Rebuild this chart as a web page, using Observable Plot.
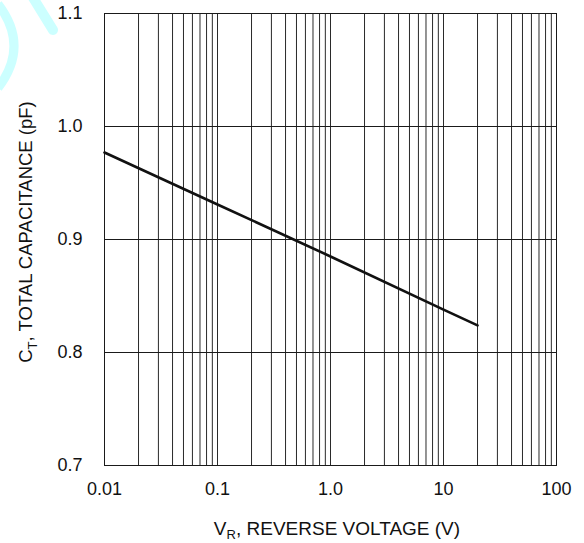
<!DOCTYPE html>
<html>
<head>
<meta charset="utf-8">
<script src="https://cdn.jsdelivr.net/npm/d3@7"></script>
<script src="https://cdn.jsdelivr.net/npm/@observablehq/plot@0.6"></script>
<style>
  html, body { margin: 0; padding: 0; background: #fff; overflow: hidden; }
  #wrap { position: relative; width: 584px; height: 543px; }
  #wrap svg.plot { position: absolute; left: 0; top: 0; }
  #mark { position: absolute; left: 0; top: 0; pointer-events: none; }
</style>
</head>
<body>
<div id="wrap">
  <svg id="mark" width="90" height="100">
    <path d="M -2 4 Q 30 46 -2 88" fill="none" stroke="#ccffff" stroke-width="9"/>
    <path d="M 32 -4 L 53 30" fill="none" stroke="#ccffff" stroke-width="10" stroke-linecap="round"/>
  </svg>
</div>
<script>
// ---- data ----
const vr = [0.01, 0.1, 1, 10, 20];               // reverse voltage (V)
const ct = [0.977, 0.931, 0.885, 0.838, 0.824];  // total capacitance (pF)

const xTicks = [0.01, 0.1, 1, 10, 100];
const xTickLabels = ["0.01", "0.1", "1.0", "10", "100"];
const yTicks = [0.7, 0.8, 0.9, 1.0, 1.1];
const yTickLabels = ["0.7", "0.8", "0.9", "1.0", "1.1"];
const decades = [0.01, 0.1, 1, 10];
const minorMult = [1, 2, 3, 4, 5, 6, 7, 8, 9];

const xGrid = decades.flatMap(d => minorMult.map(m => +(d * m).toPrecision(3))).concat([100]);
const curve = vr.map((v, i) => ({ v, c: ct[i] }));
const xTickData = xTicks.map((t, i) => ({ t, label: xTickLabels[i] }));
const yTickData = yTicks.map((t, i) => ({ t, label: yTickLabels[i] }));

const font = "'Liberation Sans', Arial, Helvetica, sans-serif";

const svg = Plot.plot({
  width: 584,
  height: 543,
  marginLeft: 104,
  marginRight: 28,
  marginTop: 13,
  marginBottom: 78,
  style: { fontFamily: font, fontSize: "18px", color: "#111", background: "#fff" },
  x: { type: "log", domain: [0.01, 100], axis: null },
  y: { domain: [0.7, 1.1], axis: null },
  marks: [
    Plot.ruleX(xGrid, { stroke: "#2a2a2a", strokeWidth: 1 }),
    Plot.ruleY(yTicks, { stroke: "#1a1a1a", strokeWidth: 1 }),
    Plot.frame({ stroke: "#1a1a1a", strokeWidth: 1 }),
    Plot.line(curve, { x: "v", y: "c", stroke: "#111", strokeWidth: 2.6 }),
    Plot.text(xTickData, {
      x: "t", text: "label", frameAnchor: "bottom", lineAnchor: "top",
      dy: 17, fontSize: 18, fill: "#111"
    }),
    Plot.text(yTickData, {
      y: "t", text: "label", frameAnchor: "left", textAnchor: "end",
      dx: -22, fontSize: 18, fill: "#111"
    })
  ]
});
svg.classList.add("plot");

const s = d3.select(svg);
// x axis label with subscript
const xl = s.append("text")
  .attr("x", 337).attr("y", 535)
  .attr("text-anchor", "middle")
  .attr("font-family", font).attr("font-size", 19).attr("fill", "#111");
xl.append("tspan").text("V");
xl.append("tspan").attr("font-size", 13).attr("dy", 4).text("R");
xl.append("tspan").attr("dy", -4).text(", REVERSE VOLTAGE (V)");

// y axis label with subscript
const yl = s.append("text")
  .attr("transform", "translate(32,232) rotate(-90)")
  .attr("text-anchor", "middle")
  .attr("font-family", font).attr("font-size", 18.5).attr("fill", "#111");
yl.append("tspan").text("C");
yl.append("tspan").attr("font-size", 13).attr("dy", 5).text("T");
yl.append("tspan").attr("dy", -5).text(", TOTAL CAPACITANCE (pF)");

document.getElementById("wrap").insertBefore(svg, document.getElementById("mark"));
</script>
</body>
</html>
